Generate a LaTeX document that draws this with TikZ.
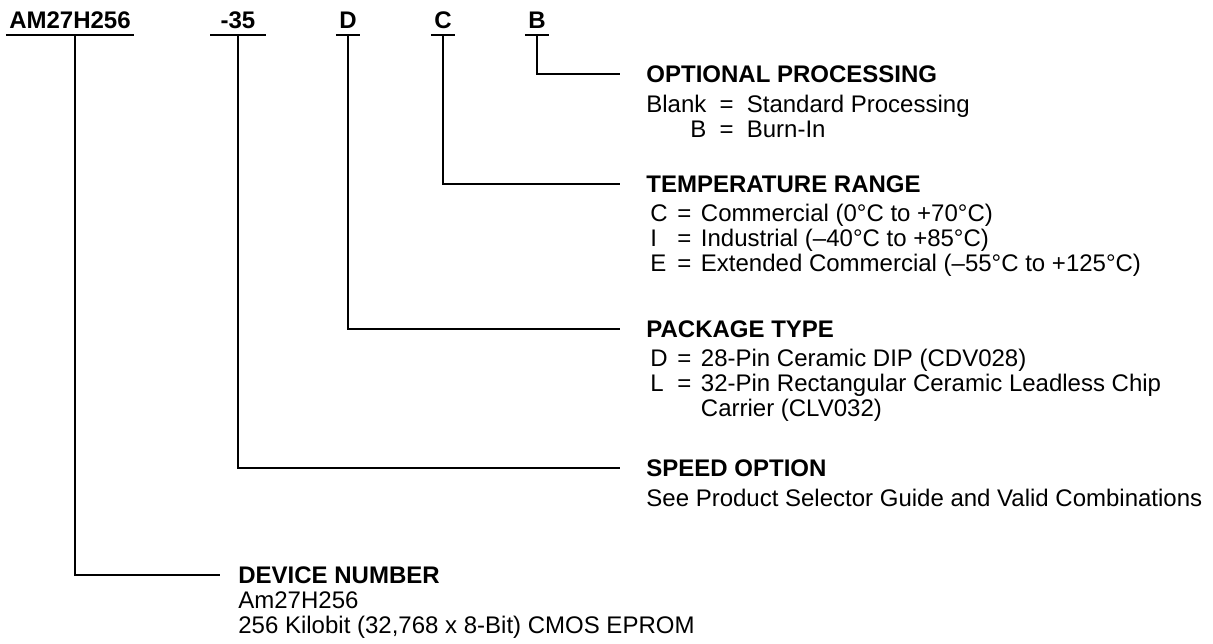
\documentclass[tikz,border=0pt]{standalone}
\usepackage{fontspec}
\setmainfont{Liberation Sans}
\usetikzlibrary{positioning}

\begin{document}
\begin{tikzpicture}[x=0.5pt,y=-0.5pt,
    part/.style={font=\fontsize{12}{12.5}\selectfont\bfseries,anchor=south,inner ysep=3pt},
    field/.style={font=\fontsize{12}{12.5}\selectfont\bfseries,anchor=west,inner ysep=0pt,inner xsep=13pt},
    info/.style={font=\fontsize{12}{12.5}\selectfont,inner sep=0pt,align=left},
    lead/.style={line width=1.3pt}]
  \useasboundingbox (0,0) rectangle (1213,643);
  % ordering code with its underlined fields
  \foreach \name/\x/\txt/\sep in {lblcode/70/AM27H256/1.5pt,lblspeed/238/-35/5pt,
      lblpkg/348/D/1.5pt,lbltemp/443/C/1.5pt,lblproc/537/B/1.5pt}{
    \node[part,inner xsep=\sep] (\name) at (\x,35) {\txt};
    \draw[lead] (\name.south west)--(\name.south east);
  }
  % field headings
  \node[field] (hproc) at (620,74) {OPTIONAL PROCESSING};
  \node[field] (htemp) at (620,184) {TEMPERATURE RANGE};
  \node[field] (hpkg) at (620,329) {PACKAGE TYPE};
  \node[field] (hspeed) at (620,468) {SPEED OPTION};
  \node[field,inner xsep=9pt] (hdev) at (220,575) {DEVICE NUMBER};
  % field values
  \node[info,below right=5.75pt and 13pt of hproc.south west] (iproc) {%
    \begin{tabular}{@{}r@{\hspace{0.55em}}l@{\hspace{0.55em}}l@{}}
      Blank & = & Standard Processing\\
      B & = & Burn-In
    \end{tabular}};
  \node[info,below right=5.5pt and 15pt of htemp.south west] (itemp) {%
    \begin{tabular}{@{}l@{\hspace{0.4em}}l@{\hspace{0.4em}}l@{}}
      C & = & Commercial (0°C to +70°C)\\
      I & = & Industrial (–40°C to +85°C)\\
      E & = & Extended Commercial (–55°C to +125°C)
    \end{tabular}};
  \node[info,below right=5.5pt and 15pt of hpkg.south west] (ipkg) {%
    \begin{tabular}{@{}l@{\hspace{0.4em}}l@{\hspace{0.4em}}l@{}}
      D & = & 28-Pin Ceramic DIP (CDV028)\\
      L & = & 32-Pin Rectangular Ceramic Leadless Chip\\
        &   & Carrier (CLV032)
    \end{tabular}};
  \node[info,below right=5.75pt and 13pt of hspeed.south west] (ispeed)
    {See Product Selector Guide and Valid Combinations};
  \node[info,below right=3.5pt and 9pt of hdev.south west] (idev)
    {Am27H256\\256 Kilobit (32,768 x 8-Bit) CMOS EPROM};
  % leaders
  \draw[lead] ([xshift=2.5pt]lblcode.south) |- (hdev.west);
  \draw[lead] (lblspeed.south) |- (hspeed.west);
  \draw[lead] (lblpkg.south) |- (hpkg.west);
  \draw[lead] (lbltemp.south) |- (htemp.west);
  \draw[lead] (lblproc.south) |- (hproc.west);
\end{tikzpicture}
\end{document}
